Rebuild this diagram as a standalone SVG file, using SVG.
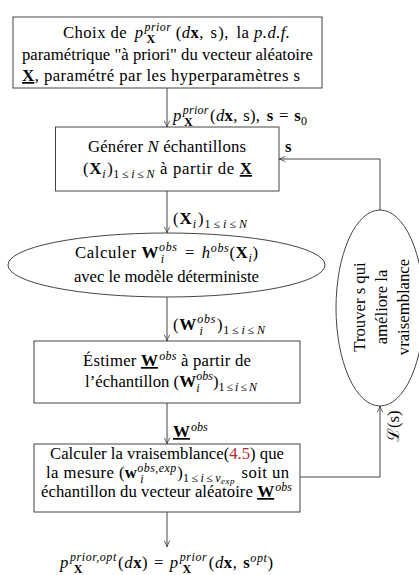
<svg xmlns="http://www.w3.org/2000/svg" width="419" height="575" viewBox="0 0 419 575">
<defs>
<style>
.t{font-family:"Liberation Serif","DejaVu Serif",serif;font-size:16.7px;fill:#000}
.i{font-style:italic}
.b{font-weight:bold}
.m{font-size:17px}
.s{font-size:12px}
.ss{font-size:9px}
.u{text-decoration:underline}
.shape{fill:#fff;stroke:#444;stroke-width:1}
.edge{fill:none;stroke:#444;stroke-width:1}
.red{fill:#b52a2a}
</style>
<marker id="ah" viewBox="0 0 10 10" refX="10" refY="5" markerWidth="7" markerHeight="7" markerUnits="userSpaceOnUse" orient="auto">
<path d="M1,1 Q6,4 10,5 Q6,6 1,9" fill="none" stroke="#444" stroke-width="1.2"/>
</marker>
</defs>
<rect width="419" height="575" fill="#fff"/>

<g id="connectors">
<line class="edge" x1="167" y1="88" x2="167" y2="127" marker-end="url(#ah)"/>
<line class="edge" x1="167" y1="191" x2="167" y2="233" marker-end="url(#ah)"/>
<line class="edge" x1="167" y1="297" x2="167" y2="341" marker-end="url(#ah)"/>
<line class="edge" x1="167" y1="403" x2="167" y2="444" marker-end="url(#ah)"/>
<line class="edge" x1="167" y1="512" x2="167" y2="547" marker-end="url(#ah)"/>
<polyline class="edge" points="300,477 380,477 380,406" marker-end="url(#ah)"/>
<polyline class="edge" points="380,210 380,159 279,159" marker-end="url(#ah)"/>
<text class="t" x="173" y="121" textLength="134" lengthAdjust="spacing"><tspan class="i">p</tspan><tspan class="i s" dx="1" dy="-7">prior</tspan><tspan class="b s" dx="-24.7" dy="11.5">X</tspan><tspan dx="17" dy="-4.5">(</tspan><tspan class="i">d</tspan><tspan class="b">x</tspan>,<tspan dx="1"> s),</tspan><tspan dx="2"> </tspan><tspan class="b">s</tspan><tspan dx="1"> = </tspan><tspan class="b" dx="1">s</tspan><tspan class="s" dy="3.5">0</tspan></text>
<text class="t" x="173" y="224" textLength="74" lengthAdjust="spacing">(<tspan class="b m">X</tspan><tspan class="i s" dy="3.5">i</tspan><tspan dx="1" dy="-3.5">)</tspan><tspan class="s" dy="3.5">1<tspan dx="2">≤</tspan><tspan class="i" dx="2">i</tspan><tspan dx="2">≤</tspan><tspan class="i" dx="2">N</tspan></tspan></text>
<text class="t" x="173" y="330" textLength="92" lengthAdjust="spacing">(<tspan class="b m">W</tspan><tspan class="i s" dy="-7">obs</tspan><tspan class="i s" dx="-16.7" dy="11.5">i</tspan><tspan dx="13.4" dy="-4.5">)</tspan><tspan class="s" dy="3.5">1<tspan dx="2">≤</tspan><tspan class="i" dx="2">i</tspan><tspan dx="2">≤</tspan><tspan class="i" dx="2">N</tspan></tspan></text>
<text class="t" x="173" y="437"><tspan class="b u m">W</tspan><tspan class="i s" dx="1" dy="-6.5">obs</tspan></text>
<text class="t" x="285" y="152"><tspan class="b">s</tspan></text>
<text class="t" transform="translate(399,442) rotate(-90)">ℒ(s)</text>
</g>

<g id="n1">
<rect class="shape" x="13" y="17" width="309" height="71"/>
<text class="t" x="63" y="38" textLength="227" lengthAdjust="spacing">Choix de<tspan dx="3"> </tspan><tspan class="i">p</tspan><tspan class="i s" dx="1" dy="-7">prior</tspan><tspan class="b s" dx="-24.7" dy="11.5">X</tspan><tspan dx="20" dy="-4.5">(</tspan><tspan class="i">d</tspan><tspan class="b">x</tspan>,<tspan dx="2"> s</tspan><tspan dx="1">),</tspan><tspan dx="3"> la </tspan><tspan class="i">p.d.f.</tspan></text>
<text class="t" x="22" y="60" textLength="291" lengthAdjust="spacing">paramétrique "à priori" du vecteur aléatoire</text>
<text class="t" x="22" y="81" textLength="278" lengthAdjust="spacing"><tspan class="b u m">X</tspan>, paramétré par les hyperparamètres s</text>
</g>

<g id="n2">
<rect class="shape" x="55.5" y="127" width="223.5" height="64"/>
<text class="t" x="88" y="152" textLength="158" lengthAdjust="spacing">Générer <tspan class="i">N</tspan> échantillons</text>
<text class="t" x="83" y="174" textLength="169" lengthAdjust="spacing">(<tspan class="b m">X</tspan><tspan class="i s" dy="3.5">i</tspan><tspan dx="1" dy="-3.5">)</tspan><tspan class="s" dy="3.5">1<tspan dx="2">≤</tspan><tspan class="i" dx="2">i</tspan><tspan dx="2">≤</tspan><tspan class="i" dx="2">N</tspan></tspan><tspan dy="-3.5"> à partir de </tspan><tspan class="b u m">X</tspan></text>
</g>

<g id="n3">
<ellipse class="shape" cx="166.5" cy="265" rx="158.5" ry="32"/>
<text class="t" x="75" y="258" textLength="183" lengthAdjust="spacing">Calculer <tspan class="b m">W</tspan><tspan class="i s" dy="-7">obs</tspan><tspan class="i s" dx="-16.7" dy="11.5">i</tspan><tspan dx="13.4" dy="-4.5"> </tspan><tspan dx="2">=</tspan><tspan dx="2"> </tspan><tspan class="i">h</tspan><tspan class="i s" dy="-6.5">obs</tspan><tspan dy="6.5">(</tspan><tspan class="b m">X</tspan><tspan class="i s" dy="3.5">i</tspan><tspan dy="-3.5">)</tspan></text>
<text class="t" x="74" y="282" textLength="185" lengthAdjust="spacing">avec le modèle déterministe</text>
</g>

<g id="n4">
<rect class="shape" x="34" y="341" width="266" height="62"/>
<text class="t" x="83" y="366" textLength="168" lengthAdjust="spacing">Éstimer <tspan class="b u m">W</tspan><tspan class="i s" dx="1" dy="-6.5">obs</tspan><tspan dy="6.5"> à partir de</tspan></text>
<text class="t" x="85" y="387" textLength="172" lengthAdjust="spacing">l’échantillon (<tspan class="b m">W</tspan><tspan class="i s" dy="-7">obs</tspan><tspan class="i s" dx="-16.7" dy="11.5">i</tspan><tspan dx="13.4" dy="-4.5">)</tspan><tspan class="s" dy="3.5">1<tspan dx="2">≤</tspan><tspan class="i" dx="2">i</tspan><tspan dx="2">≤</tspan><tspan class="i" dx="2">N</tspan></tspan></text>
</g>

<g id="n5">
<rect class="shape" x="34" y="444" width="266" height="68"/>
<text class="t" x="50" y="459" textLength="234" lengthAdjust="spacing">Calculer la vraisemblance(<tspan class="red">4.5</tspan>) que</text>
<text class="t" x="46" y="478" textLength="243" lengthAdjust="spacing">la mesure (<tspan class="b">w</tspan><tspan class="i s" dy="-6">obs,exp</tspan><tspan class="i s" dx="-36.3" dy="10.5">i</tspan><tspan dx="33" dy="-4.5">)</tspan><tspan class="s" dy="3.5">1<tspan dx="2">≤</tspan><tspan class="i" dx="2">i</tspan><tspan dx="2">≤</tspan><tspan class="i" dx="2">ν</tspan><tspan class="i ss" dy="2">exp</tspan></tspan><tspan dy="-5.5" dx="2"> soit un</tspan></text>
<text class="t" x="41" y="497" textLength="251" lengthAdjust="spacing">échantillon du vecteur aléatoire <tspan class="b u m">W</tspan><tspan class="i s" dx="1" dy="-6.5">obs</tspan></text>
</g>

<g id="n6">
<ellipse class="shape" cx="380" cy="308" rx="44" ry="98"/>
<g transform="translate(380,307) rotate(-90)">
<text class="t" x="0" y="-15" text-anchor="middle">Trouver s qui</text>
<text class="t" x="0" y="7" text-anchor="middle">améliore la</text>
<text class="t" x="0" y="29" text-anchor="middle">vraisemblance</text>
</g>
</g>

<g id="n7">
<text class="t" x="60" y="568" textLength="213" lengthAdjust="spacing"><tspan class="i">p</tspan><tspan class="i s" dx="1" dy="-7">prior,opt</tspan><tspan class="b s" dx="-43" dy="11.5">X</tspan><tspan dx="35" dy="-4.5">(</tspan><tspan class="i">d</tspan><tspan class="b">x</tspan>)<tspan dx="1"> = </tspan><tspan class="i" dx="1">p</tspan><tspan class="i s" dx="1" dy="-7">prior</tspan><tspan class="b s" dx="-24.7" dy="11.5">X</tspan><tspan dx="17" dy="-4.5">(</tspan><tspan class="i">d</tspan><tspan class="b">x</tspan>,<tspan dx="1" class="b"> s</tspan><tspan class="i s" dy="-6.5">opt</tspan><tspan dy="6.5">)</tspan></text>
</g>
</svg>
